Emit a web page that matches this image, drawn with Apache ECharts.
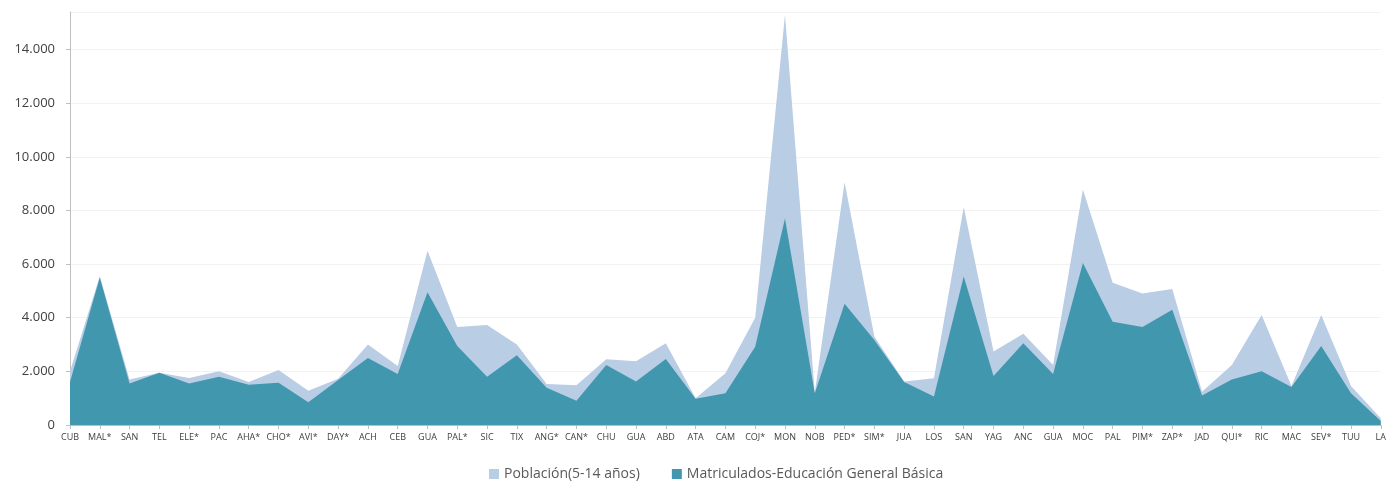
<!DOCTYPE html>
<html>
<head>
<meta charset="utf-8">
<script src="https://cdn.jsdelivr.net/npm/echarts@6/dist/echarts.min.js"></script>
<style>
html,body{margin:0;padding:0;background:#fff;}
#chart{width:1389px;height:481px;}
</style>
</head>
<body>
<div id="chart"></div>
<script>
const categories = ['CUB','MAL*','SAN','TEL','ELE*','PAC','AHA*','CHO*','AVI*','DAY*','ACH','CEB','GUA','PAL*','SIC','TIX','ANG*','CAN*','CHU','GUA','ABD','ATA','CAM','COJ*','MON','NOB','PED*','SIM*','JUA','LOS','SAN','YAG','ANC','GUA','MOC','PAL','PIM*','ZAP*','JAD','QUI*','RIC','MAC','SEV*','TUU','LA'];
const poblacion = [2000,5550,1700,1950,1750,2000,1600,2050,1280,1720,3000,2200,6500,3650,3730,3000,1530,1480,2450,2380,3050,1000,1930,4000,15300,1200,9050,3300,1620,1740,8130,2740,3400,2240,8780,5300,4900,5070,1240,2240,4100,1450,4100,1450,250];
const matriculados = [1600,5500,1550,1950,1550,1800,1500,1580,850,1680,2500,1900,4950,2950,1800,2600,1390,900,2240,1620,2460,980,1180,2920,7700,1180,4520,3170,1600,1060,5540,1830,3050,1900,6040,3850,3650,4300,1100,1700,2000,1420,2950,1180,150];
const yTicks = [0,2000,4000,6000,8000,10000,12000,14000];

const chart = echarts.init(document.getElementById('chart'));
const fmt = v => v === 0 ? '0' : String(v).replace(/\B(?=(\d{3})+(?!\d))/g, '.');
chart.setOption({
  animation: false,
  textStyle: {fontFamily: 'Open Sans, sans-serif'},
  grid: {left: 70, right: 3, top: 12, bottom: 56, containLabel: false},
  legend: {
    top: 462, left: 484, itemWidth: 10, itemHeight: 10, itemGap: 32, icon: 'rect',
    textStyle: {color: '#595959', fontSize: 14, fontFamily: 'Open Sans, sans-serif'},
    data: ['Población(5-14 años)', 'Matriculados-Educación General Básica']
  },
  xAxis: {
    type: 'category', data: categories, boundaryGap: false,
    axisLine: {lineStyle: {color: '#bfbfbf'}},
    axisTick: {show: true, lineStyle: {color: '#bfbfbf'}, length: 4, interval: 0},
    axisLabel: {interval: 0, color: '#404040', fontSize: 9, margin: 8}
  },
  yAxis: {
    type: 'value', min: 0, max: 15400, interval: 2000,
    axisLine: {show: true, lineStyle: {color: '#bfbfbf'}},
    axisTick: {show: true, length: 4, lineStyle: {color: '#bfbfbf'}},
    splitLine: {show: true, lineStyle: {color: '#f2f2f2'}},
    axisLabel: {
      color: '#404040', fontSize: 13, margin: 15, showMaxLabel: false,
      formatter: v => yTicks.indexOf(v) >= 0 ? fmt(v) : ''
    }
  },
  series: [
    {
      name: 'Población(5-14 años)', type: 'line', data: poblacion,
      symbol: 'none', lineStyle: {width: 0, color: '#b9cde5'},
      itemStyle: {color: '#b9cde5'},
      areaStyle: {color: '#b9cde5', opacity: 1}
    },
    {
      name: 'Matriculados-Educación General Básica', type: 'line', data: matriculados,
      symbol: 'none', lineStyle: {width: 0, color: '#4197ae'},
      itemStyle: {color: '#4197ae'},
      areaStyle: {color: '#4197ae', opacity: 1}
    }
  ]
});
</script>
</body>
</html>
